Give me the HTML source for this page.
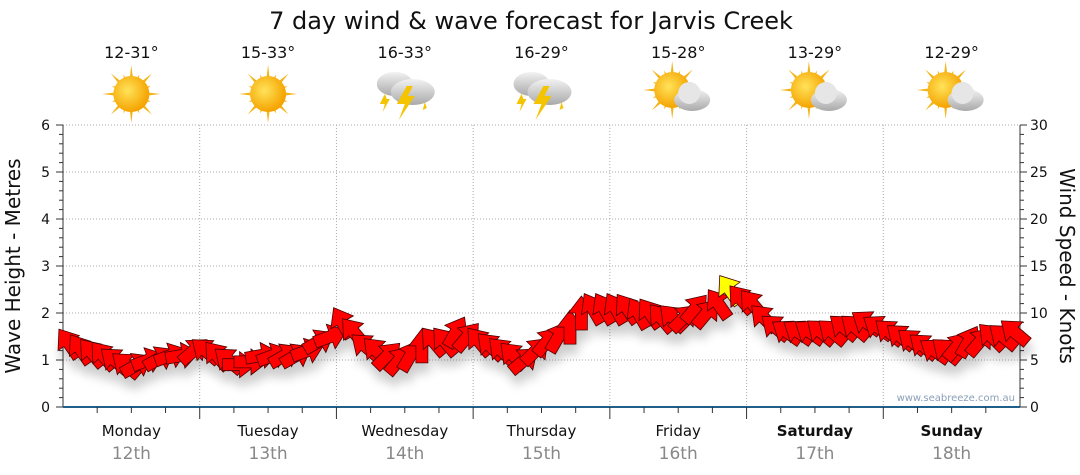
<!DOCTYPE html>
<html><head><meta charset="utf-8"><style>
html,body{margin:0;padding:0;background:#fff;width:1080px;height:475px;overflow:hidden}
svg{display:block;font-family:"DejaVu Sans","Liberation Sans",sans-serif}
</style></head><body>
<svg id="c" width="1080" height="475">
<defs>
<radialGradient id="sunG" cx="40%" cy="40%" r="60%"><stop offset="0" stop-color="#ffe35a"/><stop offset="1" stop-color="#f5a300"/></radialGradient>
<linearGradient id="cloudG" x1="0" y1="0" x2="0" y2="1"><stop offset="0" stop-color="#f2f2f2"/><stop offset="1" stop-color="#a9a9a9"/></linearGradient>
<filter id="sh" x="-50%" y="-50%" width="200%" height="200%"><feGaussianBlur in="SourceAlpha" stdDeviation="5"/><feOffset dx="2" dy="10"/><feComponentTransfer><feFuncA type="linear" slope="0.2"/></feComponentTransfer><feMerge><feMergeNode/><feMergeNode in="SourceGraphic"/></feMerge></filter>
</defs>
<text x="531" y="29" text-anchor="middle" font-size="24" fill="#111">7 day wind &amp; wave forecast for Jarvis Creek</text>
<g id="grid"></g><g id="axes"></g><g id="icons"></g>
<g id="arrows" filter="url(#sh)"></g>
<text x="1015" y="401" text-anchor="end" font-size="10" fill="#8aa0b8">www.seabreeze.com.au</text>
<text transform="translate(20,266) rotate(-90)" text-anchor="middle" font-size="20" fill="#111">Wave Height - Metres</text>
<text transform="translate(1060,266) rotate(90)" text-anchor="middle" font-size="20" fill="#111">Wind Speed - Knots</text>
</svg>
<script>
const days=["Monday","Tuesday","Wednesday","Thursday","Friday","Saturday","Sunday"];
const dates=["12th","13th","14th","15th","16th","17th","18th"];
const temps=["12-31°","15-33°","16-33°","16-29°","15-28°","13-29°","12-29°"];
const weather=["sun","sun","storm","storm","partly","partly","partly"];
const waveTicks=[0,1,2,3,4,5,6];
const windTicks=[0,5,10,15,20,25,30];
const windSpeed=[6.8,6.2,5.8,5.5,5,4.5,4.5,5,5.2,5.5,5.5,6,
6,5.5,5,4.5,4.8,5.5,5.5,5.5,5.5,6,7,7.5,
9,8,6.5,6,5.5,5,5.5,6.5,7,7,8,7.5,
7,6.5,6,5.5,5,6,7,7.5,8.5,10,10.5,10.5,
10.5,10.5,10,10,9.5,9.5,9.5,10.5,10,11,12.5,11.5,
11,9.5,8.5,8,8,8,8,8,8.5,8.5,9,8.5,
8,7.5,7,6.5,6,6,6.5,7,7,7.5,7.5,8];
const windDir=[-125,-125,-130,-130,-140,-140,-30,-20,-30,-20,-10,-40,
-140,-130,-140,0,0,-10,-20,-30,-30,-20,-30,-20,
-120,-130,-140,-135,-45,-50,-60,-90,-130,-130,-60,-50,
-130,-135,-135,-135,-40,-45,-50,-60,-90,-90,-120,-120,
-120,-125,-120,-125,-130,-135,-45,-50,-50,-125,-125,-130,
-130,-135,-140,-145,-145,-145,-140,-140,-140,-140,-145,-145,
-140,-140,-140,-140,-145,-140,-50,-60,-50,-135,-140,-140];
const X0=63,X1=1020,Y0=407,Y1=125;
const dayW=(X1-X0)/7;
const perDay=12;
const yWave=v=>Y0-(v/6)*(Y0-Y1);
const yWind=v=>Y0-(v/30)*(Y0-Y1);
const xIdx=i=>X0+dayW*(i+0.5)/perDay;
const NS="http://www.w3.org/2000/svg";
function mk(p,t,a){const e=document.createElementNS(NS,t);for(const k in a)e.setAttribute(k,a[k]);p.appendChild(e);return e;}
const grid=document.getElementById('grid'),axes=document.getElementById('axes'),icons=document.getElementById('icons'),arr=document.getElementById('arrows');
waveTicks.forEach(v=>{if(v>0){const l=mk(grid,'line',{x1:X0,x2:X1,y1:yWave(v),y2:yWave(v),stroke:'#aaa','stroke-dasharray':'1,2'});

}
const t=mk(axes,'text',{x:50,y:yWave(v)+5,'text-anchor':'end','font-size':14,fill:'#111'});t.textContent=v;

});
windTicks.forEach(v=>{const t=mk(axes,'text',{x:1030,y:yWind(v)+5,'font-size':14,fill:'#111'});t.textContent=v;

});
for(let k=0;k<=30;k++){const y=Y0-k*(Y0-Y1)/30;mk(axes,'line',{x1:X0-(k%5?4:7),x2:X0,y1:y,y2:y,stroke:'#333'});mk(axes,'line',{x1:X1,x2:X1+(k%5?4:7),y1:y,y2:y,stroke:'#333'});}
mk(axes,'line',{x1:X0,x2:X0,y1:Y1,y2:Y0,stroke:'#333'});
mk(axes,'line',{x1:X1,x2:X1,y1:Y1,y2:Y0,stroke:'#333'});
mk(axes,'line',{x1:X0,x2:X1,y1:Y0,y2:Y0,stroke:'#1f5f8a','stroke-width':2});
for(let d=0;d<7;d++){
 const xs=X0+d*dayW;
 if(d>0){const g=mk(grid,'line',{x1:xs,x2:xs,y1:Y1,y2:Y0,stroke:'#aaa','stroke-dasharray':'1,2'});
 
 
 mk(axes,'line',{x1:xs,x2:xs,y1:Y0,y2:Y0+12,stroke:'#333'});}
 for(let q=1;q<4;q++){const xq=xs+q*dayW/4;mk(axes,'line',{x1:xq,x2:xq,y1:Y0,y2:Y0+6,stroke:'#333'});}
 const cx=xs+dayW/2;
 const dn=mk(axes,'text',{x:cx,y:436,'text-anchor':'middle','font-size':15,fill:'#111','font-weight':d>=5?'bold':'normal'});dn.textContent=days[d];
 
 
 const dt=mk(axes,'text',{x:cx,y:459,'text-anchor':'middle','font-size':17,fill:'#888'});dt.textContent=dates[d];
 
 
 const tt=mk(icons,'text',{x:cx,y:58,'text-anchor':'middle','font-size':16,fill:'#111'});tt.textContent=temps[d];
 
 
 const g=mk(icons,'g',{transform:`translate(${cx},94)`});
 
 
 const w=weather[d];
 if(w==='sun'||w==='partly'){const sx=w==='sun'?0:-6,sy=w==='sun'?0:-4;
  for(let r=0;r<16;r++){const a=r*Math.PI/8,L=r%2?21:29;mk(g,'polygon',{points:`${sx+Math.cos(a-0.13)*14},${sy+Math.sin(a-0.13)*14} ${sx+Math.cos(a)*L},${sy+Math.sin(a)*L} ${sx+Math.cos(a+0.13)*14},${sy+Math.sin(a+0.13)*14}`,fill:'#f3b417'});}
  mk(g,'circle',{cx:sx,cy:sy,r:18,fill:'url(#sunG)'});}
 if(w==='partly'){mk(g,'ellipse',{cx:14,cy:6,rx:18,ry:11,fill:'url(#cloudG)'});mk(g,'circle',{cx:11,cy:-1,r:11,fill:'#e6e6e6'});}
 if(w==='storm'){mk(g,'ellipse',{cx:-10,cy:-10,rx:18,ry:12,fill:'url(#cloudG)'});mk(g,'ellipse',{cx:8,cy:-2,rx:22,ry:13,fill:'url(#cloudG)'});
  mk(g,'polygon',{points:'2,-8 -8,10 0,10 -6,26 10,2 3,2 8,-8',fill:'#f5c400'});mk(g,'polygon',{points:'-20,0 -25,10 -20,10 -22,18 -15,5 -18,5',fill:'#f5c400'});mk(g,'polygon',{points:'20,8 18,16 22,14',fill:'#f5c400'});}
}
windSpeed.forEach((v,i)=>{
 const x=xIdx(i),y=yWind(v),yellow=v>=12;
 const p=mk(arr,'polygon',{points:'-17,-6 0,-6 0,-13 17,0 0,13 0,6 -17,6',transform:`translate(${x},${y}) rotate(${windDir[i]})`,fill:yellow?'#ffff00':'#ff0000',stroke:'#4a0000','stroke-width':0.8});
 
 
});
</script>
</body></html>
